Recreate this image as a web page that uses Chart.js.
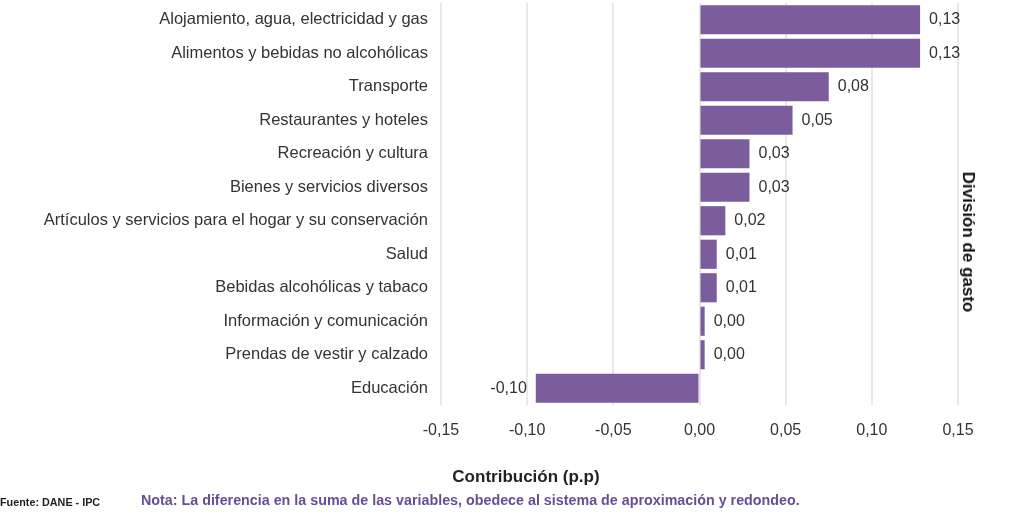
<!DOCTYPE html>
<html>
<head>
<meta charset="utf-8">
<script src="https://cdn.jsdelivr.net/npm/chart.js@4"></script>
<style>
  html, body { margin: 0; padding: 0; background: #fff; }
  #wrap { position: relative; width: 1024px; height: 523px; font-family: "Liberation Sans", Arial, sans-serif; }
  #chart { position: absolute; left: 0; top: 0; }
  .txt { position: absolute; white-space: nowrap; font-weight: bold; }
  #xtitle { left: 526px; top: 467px; transform: translateX(-50%); font-size: 17px; color: #222; }
  #fuente { left: 0px; top: 496px; font-size: 10.8px; color: #222; }
  #nota { left: 141px; top: 492px; font-size: 14.3px; color: #6a4c93; }
  #ytitle { left: 968px; top: 242px; transform: translate(-50%, -50%) rotate(90deg); font-size: 17px; color: #111; }
</style>
</head>
<body>
<div id="wrap">
  <canvas id="chart" width="1024" height="523"></canvas>
  <div class="txt" id="xtitle">Contribución (p.p)</div>
  <div class="txt" id="ytitle">División de gasto</div>
  <div class="txt" id="fuente">Fuente: DANE - IPC</div>
  <div class="txt" id="nota">Nota: La diferencia en la suma de las variables, obedece al sistema de aproximación y redondeo.</div>
</div>
<script>
var categories = [
  'Alojamiento, agua, electricidad y gas',
  'Alimentos y bebidas no alcohólicas',
  'Transporte',
  'Restaurantes y hoteles',
  'Recreación y cultura',
  'Bienes y servicios diversos',
  'Artículos y servicios para el hogar y su conservación',
  'Salud',
  'Bebidas alcohólicas y tabaco',
  'Información y comunicación',
  'Prendas de vestir y calzado',
  'Educación'
];
// bar lengths
var contribution = [0.128, 0.128, 0.075, 0.054, 0.029, 0.029, 0.015, 0.010, 0.010, 0.003, 0.003, -0.095];
// value labels as printed on the picture
var valueLabels = ['0,13', '0,13', '0,08', '0,05', '0,03', '0,03', '0,02', '0,01', '0,01', '0,00', '0,00', '-0,10'];

var barColor = '#7b5c9d';
var textColor = '#333333';
var fontFamily = '"Liberation Sans", Arial, sans-serif';

// draws the numbers next to each bar
var barValues = {
  id: 'barValues',
  afterDatasetsDraw: function(chart) {
    var ctx = chart.ctx;
    var meta = chart.getDatasetMeta(0);
    ctx.save();
    ctx.font = '16px ' + fontFamily;
    ctx.fillStyle = textColor;
    ctx.textBaseline = 'middle';
    meta.data.forEach(function(bar, i) {
      if (contribution[i] < 0) {
        ctx.textAlign = 'right';
        ctx.fillText(valueLabels[i], bar.x - 9, bar.y);
      } else {
        ctx.textAlign = 'left';
        ctx.fillText(valueLabels[i], bar.x + 9, bar.y);
      }
    });
    ctx.restore();
  }
};

var ctx = document.getElementById('chart').getContext('2d');
var chart = new Chart(ctx, {
  type: 'bar',
  data: {
    labels: categories,
    datasets: [{
      data: contribution,
      backgroundColor: barColor,
      borderWidth: 0,
      barPercentage: 0.87,
      categoryPercentage: 1.0
    }]
  },
  options: {
    indexAxis: 'y',
    responsive: false,
    animation: false,
    layout: { padding: { top: 3, left: 0, right: 66, bottom: 83 } },
    plugins: {
      legend: { display: false },
      tooltip: { enabled: false }
    },
    scales: {
      x: {
        min: -0.15,
        max: 0.15,
        grid: { color: '#e8e8e8', lineWidth: 2, drawTicks: false },
        border: { display: false },
        ticks: {
          stepSize: 0.05,
          padding: 16,
          color: textColor,
          font: { family: fontFamily, size: 16 },
          callback: function(v) { return v.toFixed(2).replace('.', ','); }
        },
        afterFit: function(scale) { scale.height = 35; }
      },
      y: {
        grid: { display: false },
        border: { display: false },
        ticks: {
          padding: 5,
          color: textColor,
          font: { family: fontFamily, size: 16.5 }
        },
        afterFit: function(scale) {
          scale.width = 441;
          scale.paddingTop = 0;
          scale.paddingBottom = 0;
        }
      }
    }
  },
  plugins: [barValues]
});
</script>
</body>
</html>
